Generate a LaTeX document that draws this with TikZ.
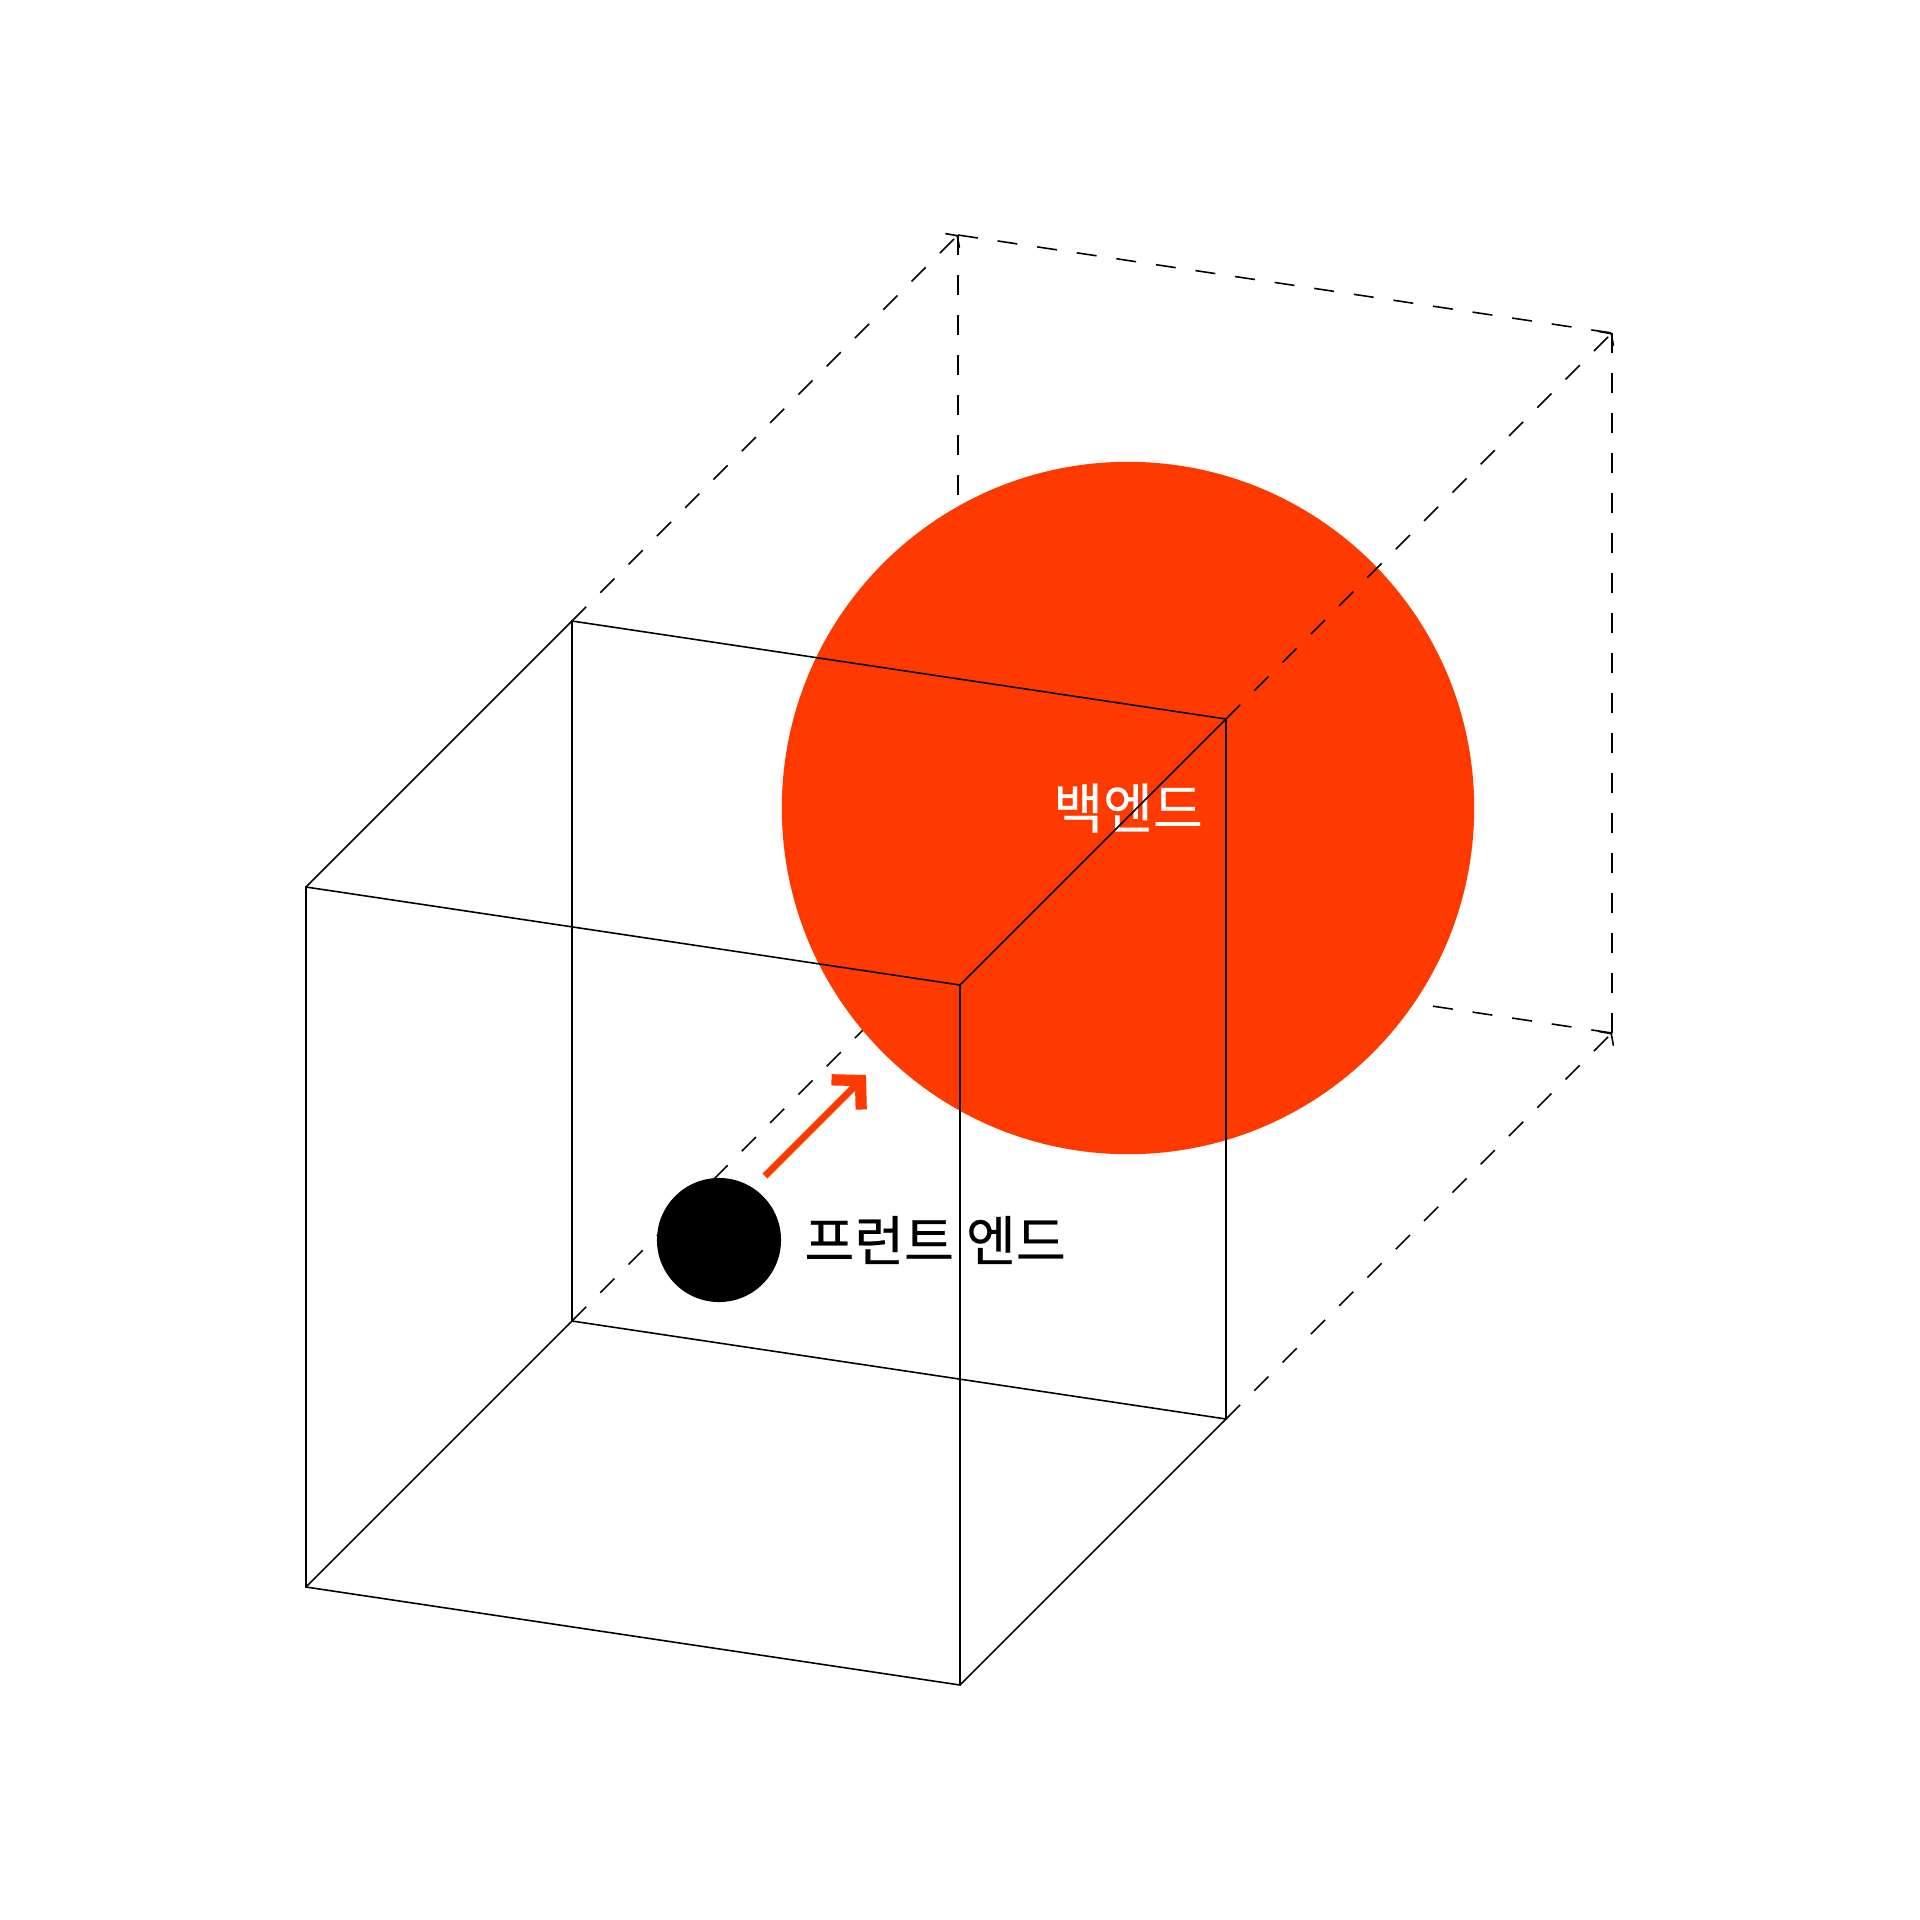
\documentclass[tikz,border=0pt]{standalone}
\usepackage{fontspec}
\newfontfamily\kofont[FakeBold=0.4]{Noto Sans CJK KR}
\usetikzlibrary{positioning,arrows.meta}
\definecolor{backendred}{RGB}{255,58,0}

\begin{document}
\begin{tikzpicture}[
    edge/.style={line width=0.45pt, black},
    hidden/.style={edge, dash pattern=on 0.2cm off 0.2cm},
    depth/.style={hidden, -{Straight Barb[length=0.07cm, width=0.2cm]}},
    blob/.style={circle, inner sep=0pt, draw=none},
    tag/.style={inner sep=0pt, font={\kofont\fontsize{15.4pt}{17pt}\selectfont}}]
  \begin{scope}[x=0.01cm, y=-0.01cm]
    \useasboundingbox (0,0) rectangle (1920,1920);
    % solid box
    \coordinate (a) at (306,887);
    \coordinate (b) at (960,985);
    \coordinate (c) at (960,1685);
    \coordinate (d) at (306,1587);
    \coordinate (e) at (572,621);
    \coordinate (f) at (1226,719);
    \coordinate (g) at (1226,1419);
    \coordinate (h) at (572,1321);
    % dashed box
    \coordinate (p) at (958,235);
    \coordinate (q) at (1612,333);
    \coordinate (r) at (1612,1033);
    \coordinate (s) at (958,935);
    \draw [hidden] (p) -- (s);
    \draw [hidden] (s) -- (r);
    \draw [depth] (h) -- (s);
    \node [blob, fill=backendred, minimum size=6.92cm, tag, text=white] (backend) at (1128,808) {백엔드};
    \draw [hidden] (p) -- (q);
    \draw [hidden] (q) -- (r);
    \draw [depth] (e) -- (p);
    \draw [depth] (f) -- (q);
    \draw [depth] (g) -- (r);
    \node [blob, fill=black, minimum size=1.24cm] (frontend) at (719,1240) {};
    \node [tag, right=0.22cm of frontend] (frontendlabel) {프런트 엔드};
    \coordinate (arrowstart) at (765,1176);
    \coordinate (arrowend) at (866,1075);
    \draw [backendred, line width=2pt, -{Straight Barb[length=0.2cm, width=0.42cm, line width=3.2pt, sharp]}] (arrowstart) -- (arrowend);
    \draw [edge] (a) -- (b) -- (c) -- (d) -- cycle;
    \draw [edge] (e) -- (f) -- (g) -- (h) -- cycle;
    \draw [edge] (a) -- (e);
    \draw [edge] (b) -- (f);
    \draw [edge] (c) -- (g);
    \draw [edge] (d) -- (h);
  \end{scope}
\end{tikzpicture}
\end{document}
